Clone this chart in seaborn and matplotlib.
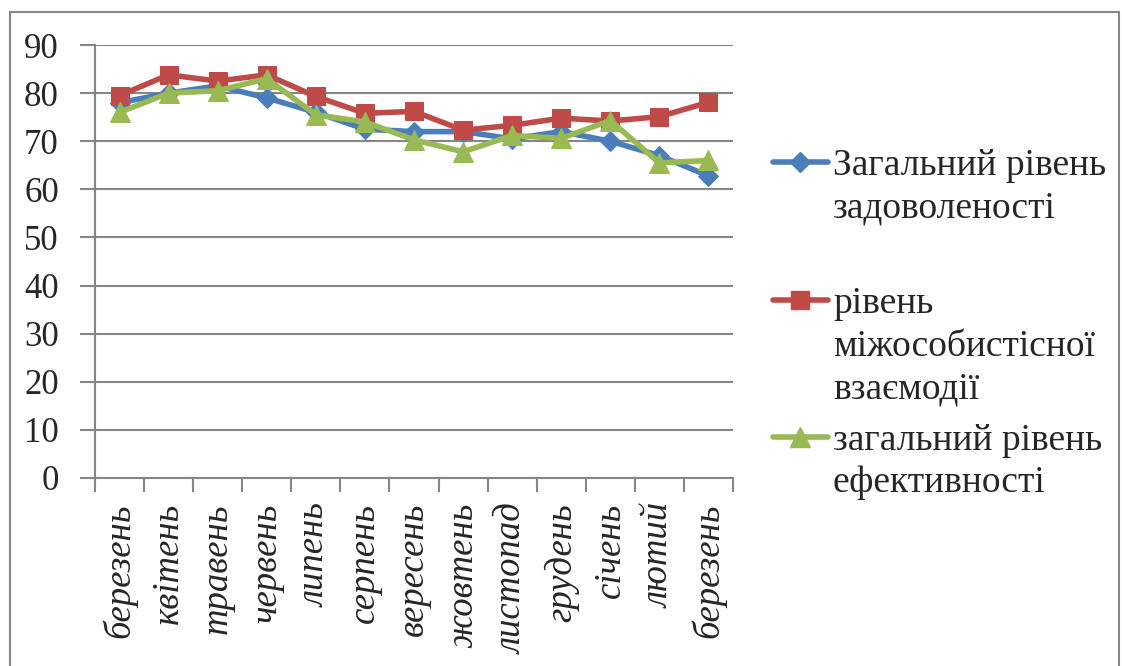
import matplotlib
matplotlib.use("Agg")
import matplotlib.pyplot as plt
import seaborn as sns
from matplotlib.lines import Line2D
from matplotlib.patches import Rectangle

# Data
months = ["березень", "квітень", "травень", "червень", "липень", "серпень",
          "вересень", "жовтень", "листопад", "грудень", "січень", "лютий",
          "березень"]
satisfaction = [78, 80, 81.5, 79, 76, 72.5, 72, 72, 70.5, 72, 70, 67, 62.8]
interaction = [79.5, 83.8, 82.5, 83.8, 79.3, 75.8, 76.2, 72.3, 73.3, 74.8,
               74.2, 75.1, 78.1]
efficiency = [76, 80, 80.5, 83, 75.5, 74, 70.3, 67.8, 71.2, 70.6, 74.3,
              65.5, 66]
series_names = ["Загальний рівень\nзадоволеності",
                "рівень\nміжособистісної\nвзаємодії",
                "загальний рівень\nефективності"]

sns.set_style("white")
FONT = ["Liberation Serif", "DejaVu Serif"]
plt.rcParams["font.family"] = FONT

W, H = 1122, 666
GREY = "#868686"
styles = [("#4A7EBB", "D", 10), ("#BE4B48", "s", 13.5), ("#98B954", "^", 14.5)]

fig = plt.figure(figsize=(W / 100, H / 100), dpi=100)
ax = fig.add_axes([95 / W, 1 - 478 / H, (733 - 95) / W, (478 - 45) / H])

x = list(range(len(months)))
for vals, (color, marker, ms) in zip([satisfaction, interaction, efficiency], styles):
    sns.lineplot(x=x, y=vals, ax=ax, color=color, marker=marker,
                 markersize=ms, markeredgecolor=color, linewidth=4,
                 legend=False)

ax.set_xlim(-0.5, len(months) - 0.5)
ax.set_ylim(0, 90)
ax.set_yticks(range(0, 91, 10))
ax.yaxis.grid(True, color=GREY, lw=1.5)
ax.set_axisbelow(True)

# tick marks between categories, labels at category centres
ax.set_xticks([i - 0.5 for i in range(len(months) + 1)])
ax.set_xticklabels([])
ax.set_xticks(x, minor=True)
ax.set_xticklabels(months, minor=True, rotation=90, style="italic",
                   fontsize=26.5, family=FONT)
ax.tick_params(axis="x", which="minor", length=0, pad=18, bottom=True)
ax.tick_params(axis="x", which="major", length=10, width=1.5, color=GREY,
               direction="out", bottom=True)
ax.tick_params(axis="y", length=11, width=1.5, color=GREY, direction="out",
               pad=15, labelsize=25, left=True)
for lab in ax.get_yticklabels():
    lab.set_family(FONT)

for side in ["top", "right"]:
    ax.spines[side].set_visible(False)
for side in ["left", "bottom"]:
    ax.spines[side].set_color(GREY)
    ax.spines[side].set_linewidth(1.5)

# legend drawn by hand to keep the handles level with the first text line
handle_y = [162, 300, 437]
for name, hy, (color, marker, ms) in zip(series_names, handle_y, styles):
    fy = 1 - hy / H
    fig.add_artist(Line2D([773 / W, 828 / W], [fy, fy], transform=fig.transFigure,
                          color=color, lw=4, solid_capstyle="round"))
    fig.add_artist(Line2D([800 / W], [fy], transform=fig.transFigure,
                          color=color, marker=marker, markersize=ms,
                          markeredgecolor=color))
    for k, line in enumerate(name.split("\n")):
        by = hy + 13 + 42.5 * k
        fig.text(833 / W, 1 - by / H, line, fontsize=27, va="baseline",
                 ha="left", family=FONT)

# outer frame
fig.add_artist(Rectangle((10 / W, -0.02), (1119 - 10) / W, 1 - 12 / H + 0.02,
                         transform=fig.transFigure, fill=False,
                         edgecolor="#888888", lw=1.5))

fig.savefig("out.png", dpi=100)
